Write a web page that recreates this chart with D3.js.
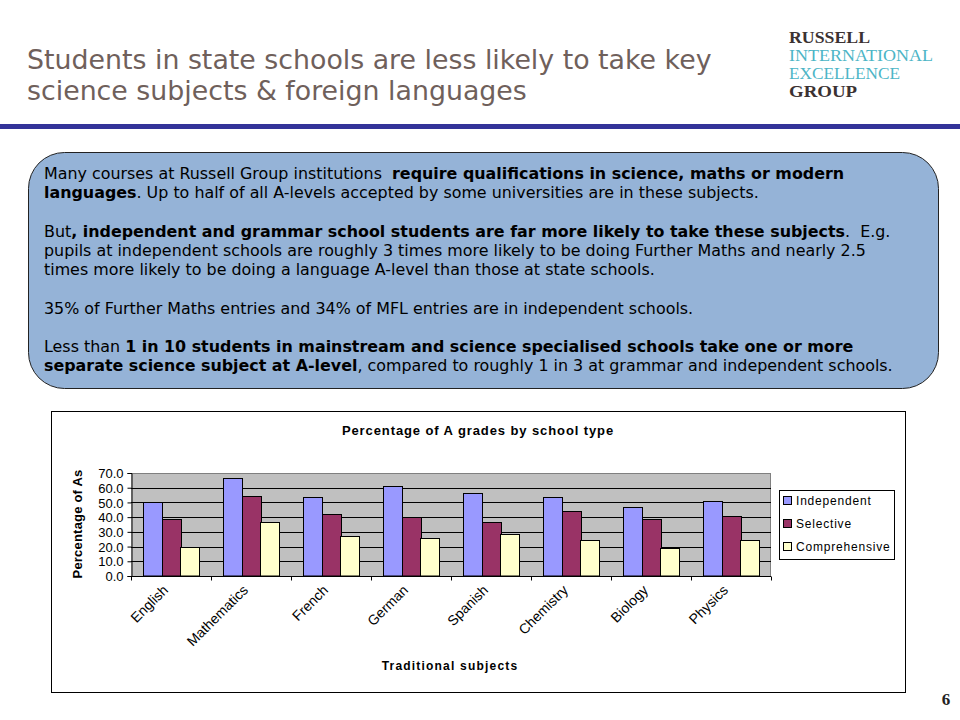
<!DOCTYPE html>
<html><head><meta charset="utf-8">
<script src="https://cdn.jsdelivr.net/npm/d3@7"></script>
<style>body{margin:0;background:#fff}svg{display:block}</style>
</head><body>
<svg id="c" width="960" height="720"></svg>
<script>
const categories = ["English","Mathematics","French","German","Spanish","Chemistry","Biology","Physics"];
const seriesNames = ["Independent","Selective","Comprehensive"];
const independent = [50.0, 66.6, 53.6, 61.1, 56.4, 53.6, 46.6, 50.9];
const selective = [38.8, 54.3, 42.0, 40.4, 36.6, 43.9, 38.6, 41.1];
const comprehensive = [19.4, 36.5, 26.9, 25.8, 28.4, 24.3, 19.3, 24.3];
const yTicks = [0,10,20,30,40,50,60,70];
const colors = ["#9999ff","#993366","#ffffcc"];
const chartTitle = "Percentage of A grades by school type";
const yTitle = "Percentage of As";
const xTitle = "Traditional subjects";
const slideTitle = ["Students in state schools are less likely to take key","science subjects & foreign languages"];
const logo = [["RUSSELL","#3b3232",true],["INTERNATIONAL","#4cb5c6",false],["EXCELLENCE","#4cb5c6",false],["GROUP","#3b3232",true]];
const bodyLines = [
  [["Many courses at Russell Group institutions\u00a0 ",0],["require qualifications in science, maths or modern",1]],
  [["languages",1],[". Up to half of all A-levels accepted by some universities are in these subjects.",0]],
  null,
  [["But",0],[", independent and grammar school students are far more likely to take these subjects",1],[".\u00a0 E.g.",0]],
  [["pupils at independent schools are roughly 3 times more likely to be doing Further Maths and nearly 2.5",0]],
  [["times more likely to be doing a language A-level than those at state schools.",0]],
  null,
  [["35% of Further Maths entries and 34% of MFL entries are in independent schools.",0]],
  null,
  [["Less than ",0],["1 in 10 students in mainstream and science specialised schools take one or more",1]],
  [["separate science subject at A-level",1],[", compared to roughly 1 in 3 at grammar and independent schools.",0]]
];

const svg = d3.select("#c");
// slide title
svg.append("g").selectAll("text").data(slideTitle).join("text")
  .attr("x",27).attr("y",(d,i)=>69+i*31)
  .attr("font-family","DejaVu Sans, Verdana, sans-serif").attr("font-size",26.8)
  .attr("fill","#6f605b").text(d=>d);
// logo
svg.append("g").selectAll("text").data(logo).join("text")
  .attr("x",789).attr("y",(d,i)=>43+i*18)
  .attr("font-family","Liberation Serif, Times New Roman, serif").attr("font-size",16)
  .attr("font-weight",d=>d[2]?"bold":"normal").attr("fill",d=>d[1])
  .attr("textLength",d=>({RUSSELL:81,INTERNATIONAL:144,EXCELLENCE:111,GROUP:68})[d[0]])
  .attr("lengthAdjust","spacingAndGlyphs").text(d=>d[0]);
// header bar
svg.append("rect").attr("x",0).attr("y",124).attr("width",960).attr("height",5).attr("fill","#333399");
// rounded box
svg.append("rect").attr("x",28.5).attr("y",152.5).attr("width",910).attr("height",236).attr("rx",36).attr("ry",36)
  .attr("fill","#95b3d7").attr("stroke","#222").attr("stroke-width",1);
const bt = svg.append("g").attr("font-family","DejaVu Sans, Verdana, sans-serif").attr("font-size",15.9).attr("fill","#000");
let by = 179;
bodyLines.forEach(line=>{
  if(line){
    const t = bt.append("text").attr("x",44).attr("y",by);
    line.forEach(s=>t.append("tspan").attr("font-weight",s[1]?"bold":"normal").text(s[0]));
    by += 19.3;
  } else by += 19;
});
// page number
svg.append("text").attr("x",946).attr("y",705).attr("text-anchor","middle")
  .attr("font-family","Liberation Serif, serif").attr("font-weight","bold").attr("font-size",17).attr("fill","#222").text("6");

// chart frame
svg.append("rect").attr("x",51.5).attr("y",411.5).attr("width",854).attr("height",281).attr("fill","#fff").attr("stroke","#000");
const P = {l:131, r:771, t:473, b:576};
const x = d3.scaleBand().domain(categories).range([P.l,P.r]).paddingInner(0.3).paddingOuter(0.15);
const xg = d3.scaleBand().domain(categories).range([P.l,P.r]);
const y = d3.scaleLinear().domain([0,70]).range([P.b,P.t]);
const xs = d3.scaleBand().domain(seriesNames).range([0,x.bandwidth()]);
const g = svg.append("g");
g.append("rect").attr("x",P.l).attr("y",P.t).attr("width",P.r-P.l).attr("height",P.b-P.t).attr("fill","#c0c0c0");
g.append("line").attr("x1",P.l).attr("x2",P.r).attr("y1",P.t+0.5).attr("y2",P.t+0.5).attr("stroke","#808080");
g.append("line").attr("x1",P.r-0.5).attr("x2",P.r-0.5).attr("y1",P.t).attr("y2",P.b).attr("stroke","#808080");
g.selectAll(".grid").data(yTicks.slice(1,-1)).join("line")
  .attr("x1",P.l).attr("x2",P.r).attr("y1",d=>Math.round(y(d))+0.5).attr("y2",d=>Math.round(y(d))+0.5)
  .attr("stroke","#000");
const series = [independent,selective,comprehensive];
series.forEach((vals,si)=>{
  g.selectAll(".b"+si).data(vals).join("rect")
    .attr("x",(d,i)=>Math.round(x(categories[i])+xs(seriesNames[si]))+0.5)
    .attr("y",d=>Math.round(y(d))+0.5)
    .attr("width",Math.round(xs.bandwidth()))
    .attr("height",d=>P.b-Math.round(y(d))-0.5)
    .attr("fill",colors[si]).attr("stroke","#000");
});
// axes
const yAxis = d3.axisLeft(y).tickValues(yTicks).tickFormat(d3.format(".1f")).tickSize(4).tickPadding(4);
const ya = svg.append("g").attr("transform",`translate(${P.l+0.5},0)`).call(yAxis);
ya.selectAll("text").attr("font-family","Liberation Sans, Arial, sans-serif").attr("font-size",13).attr("fill","#000").attr("dy","0.36em");
ya.select(".domain").attr("stroke","#000");
const xAxis = d3.axisBottom(xg).tickSize(0).tickFormat("");
const xa = svg.append("g").attr("transform",`translate(0,${P.b+0.5})`).call(xAxis);
xa.select(".domain").attr("stroke","#000").attr("d",`M${P.l},0H${P.r}`);
xa.selectAll(".bound").data(categories.concat(["_end"])).join("line")
  .attr("x1",(d,i)=>Math.round(P.l+i*xg.step())+0.5).attr("x2",(d,i)=>Math.round(P.l+i*xg.step())+0.5)
  .attr("y1",0).attr("y2",4).attr("stroke","#000");
svg.append("g").selectAll("text").data(categories).join("text")
  .attr("transform",d=>`translate(${xg(d)+xg.bandwidth()/2-9},${P.b+8}) rotate(-45)`)
  .attr("text-anchor","end").attr("dy","0.7em")
  .attr("font-family","Liberation Sans, Arial, sans-serif").attr("font-size",14).attr("fill","#000").text(d=>d);
// titles
svg.append("text").attr("x",478).attr("y",435).attr("text-anchor","middle")
  .attr("font-family","Liberation Sans, Arial, sans-serif").attr("font-weight","bold").attr("font-size",13).attr("letter-spacing",0.9).text(chartTitle);
svg.append("text").attr("transform","translate(82,524) rotate(-90)").attr("text-anchor","middle")
  .attr("font-family","Liberation Sans, Arial, sans-serif").attr("font-weight","bold").attr("font-size",13).attr("letter-spacing",0.2).text(yTitle);
svg.append("text").attr("x",450).attr("y",670).attr("text-anchor","middle")
  .attr("font-family","Liberation Sans, Arial, sans-serif").attr("font-weight","bold").attr("font-size",12).attr("letter-spacing",1.2).text(xTitle);
// legend
const lg = svg.append("g");
lg.append("rect").attr("x",779.5).attr("y",490.5).attr("width",115).attr("height",69).attr("fill","#fff").attr("stroke","#000");
const li = lg.selectAll(".li").data(seriesNames).join("g").attr("transform",(d,i)=>`translate(783,${501+i*23})`);
li.append("rect").attr("x",0.5).attr("y",-4.5).attr("width",8).attr("height",8).attr("fill",(d,i)=>colors[i]).attr("stroke","#000");
li.append("text").attr("x",13).attr("y",0).attr("dy","0.35em")
  .attr("font-family","Liberation Sans, Arial, sans-serif").attr("font-size",12).attr("letter-spacing",0.8).text(d=>d);
</script>
</body></html>
